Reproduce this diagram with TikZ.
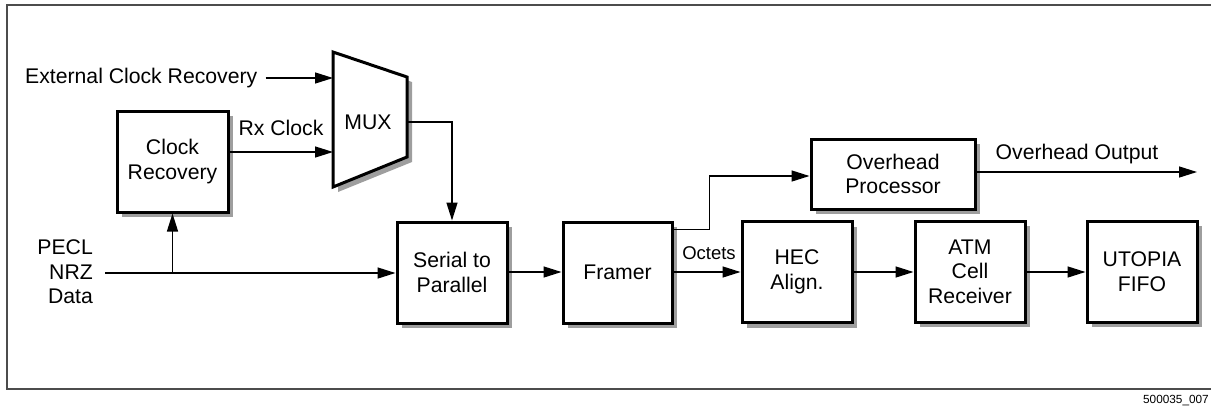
\documentclass[tikz,border=0pt]{standalone}
\usepackage{fontspec}
\setmainfont{Liberation Sans}
\usetikzlibrary{arrows.meta,shadows,calc}
\tikzset{
  blk/.style={draw=black, line width=3pt, fill=white, inner sep=0pt, align=center,
    font=\fontsize{21.2}{24.5}\selectfont,
    drop shadow={shadow xshift=5pt, shadow yshift=-5pt, fill=black!38, opacity=1}},
  conn/.style={line width=1.4pt, -{Triangle[length=18pt,width=11pt]}},
  wire/.style={line width=1.4pt},
  lbl/.style={inner sep=0pt, font=\fontsize{21.2}{24.5}\selectfont, align=center},
  frame/.style={draw=black!70, line width=1.6pt}
}
\begin{document}
\begin{tikzpicture}[x=1pt,y=-1pt]
\useasboundingbox (0,0) rectangle (1211,408);
% frame
\draw[frame] (1211,5) -- (7,5) -- (7,389) -- (1211,389);
\node[anchor=east, inner sep=0pt, font=\fontsize{11.8}{13}\selectfont] (fig) at (1209,401) {500035\_007};

% blocks
\node[blk, minimum width=111pt, minimum height=101pt] (cr) at (172.5,161.5) {Clock\\Recovery};
\node[blk, minimum width=110pt, minimum height=101pt] (s2p) at (452,272.5) {Serial to\\Parallel};
\node[blk, minimum width=109pt, minimum height=101pt] (fr) at (617.5,272.5) {Framer};
\node[blk, minimum width=110pt, minimum height=101pt] (hec) at (797,272) {HEC\\Align.};
\node[blk, minimum width=164pt, minimum height=70pt] (ohp) at (893,174) {Overhead\\Processor};
\node[blk, minimum width=110pt, minimum height=101pt] (atm) at (970,271.5) {ATM\\Cell\\Receiver};
\node[blk, minimum width=110pt, minimum height=101pt] (fifo) at (1142,271.5) {UTOPIA\\FIFO};

% MUX trapezoid
\fill[black!38] (338,57) -- (412,82) -- (412,162) -- (338,192) -- cycle;
\draw[line width=3pt, fill=white, line join=miter] (333,52) -- (407,77) -- (407,157) -- (333,187) -- cycle;
\node[lbl] (mux) at (368,122) {MUX};
\coordinate (muxin1) at (333,78);
\coordinate (muxin2) at (333,152);
\coordinate (muxout) at (407,122);

% labels
\node[lbl, anchor=west] (ext) at (25,78) {External Clock Recovery};
\node[lbl, anchor=east, align=right] (pecl) at (93,272) {PECL\\NRZ\\Data};
\node[lbl] (rx) at (281,128) {Rx Clock};
\node[lbl, font=\fontsize{18.5}{20}\selectfont] (oct) at (709,253) {Octets};
\node[lbl] (oho) at (1077,154) {Overhead Output};

% connectors
\draw[conn] ([xshift=8pt]ext.east) -- (muxin1);
\draw[conn] (cr.east |- muxin2) -- (muxin2);
\draw[conn] (muxout) -| (s2p.north);
\coordinate (din) at (105,273);
\coordinate (br) at (cr.south |- din);
\draw[wire] (din) -- (br);
\draw[conn] (br) -- (cr.south);
\draw[conn] (br) -- (s2p.west |- din);
\draw[conn] (s2p.east |- 0,272) -- (fr.west |- 0,272);
\draw[conn] (fr.east |- 0,272) -- (hec.west |- 0,272);
\draw[conn] (hec.east |- 0,272) -- (atm.west |- 0,272);
\draw[conn] (atm.east |- 0,272) -- (fifo.west |- 0,272);
\coordinate (ohout) at (1197,172);
\draw[conn] (ohp.east |- ohout) -- (ohout);
\coordinate (frtap) at ($(fr.north east)+(0,9)$);
\draw[conn] (frtap) -- ++(36,0) |- (ohp.west |- 0,176);
\end{tikzpicture}
\end{document}
